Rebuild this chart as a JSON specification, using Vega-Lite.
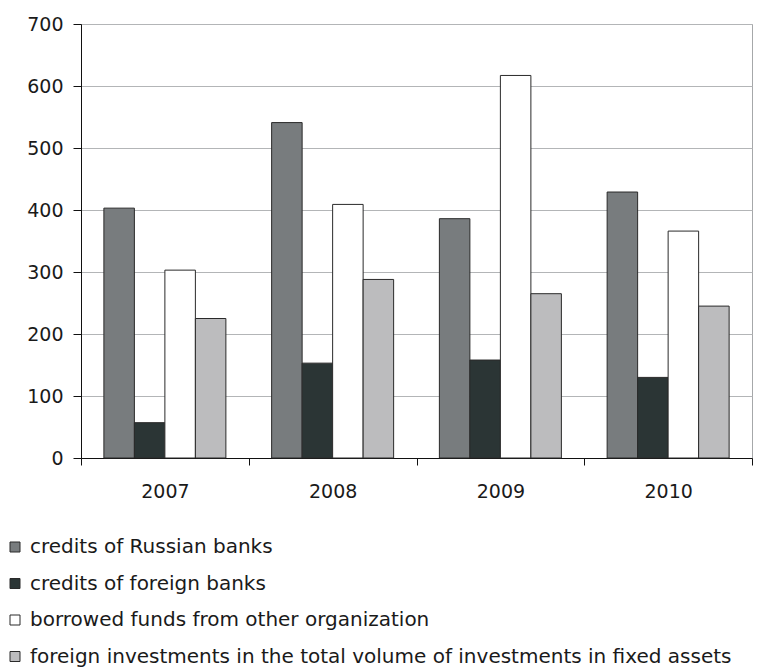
{
  "$schema": "https://vega.github.io/schema/vega-lite/v6.json",
  "autosize": {"type": "none"},
  "width": 671,
  "height": 434,
  "padding": {"left": 81, "top": 24, "right": 9, "bottom": 211},
  "background": "white",
  "config": {
    "font": "DejaVu Sans",
    "view": {"stroke": "#a6a8aa", "strokeWidth": 1}
  },
  "data": {
    "values": [
      {"year": "2007", "series": "credits of Russian banks", "value": 403},
      {"year": "2007", "series": "credits of foreign banks", "value": 57},
      {"year": "2007", "series": "borrowed funds from other organization", "value": 303},
      {"year": "2007", "series": "foreign investments in the total volume of investments in fixed assets", "value": 225},
      {"year": "2008", "series": "credits of Russian banks", "value": 541},
      {"year": "2008", "series": "credits of foreign banks", "value": 153},
      {"year": "2008", "series": "borrowed funds from other organization", "value": 409},
      {"year": "2008", "series": "foreign investments in the total volume of investments in fixed assets", "value": 288},
      {"year": "2009", "series": "credits of Russian banks", "value": 386},
      {"year": "2009", "series": "credits of foreign banks", "value": 158},
      {"year": "2009", "series": "borrowed funds from other organization", "value": 617},
      {"year": "2009", "series": "foreign investments in the total volume of investments in fixed assets", "value": 265},
      {"year": "2010", "series": "credits of Russian banks", "value": 429},
      {"year": "2010", "series": "credits of foreign banks", "value": 130},
      {"year": "2010", "series": "borrowed funds from other organization", "value": 366},
      {"year": "2010", "series": "foreign investments in the total volume of investments in fixed assets", "value": 245}
    ]
  },
  "mark": {"type": "bar", "stroke": "#2a2a2a", "strokeWidth": 1},
  "encoding": {
    "x": {
      "field": "year",
      "type": "nominal",
      "scale": {"paddingInner": 0, "paddingOuter": 0},
      "axis": {
        "title": null,
        "labelAngle": 0,
        "labelFontSize": 19,
        "labelColor": "#1a1a1a",
        "labelPadding": 17,
        "tickBand": "extent",
        "tickSize": 7,
        "tickColor": "#111",
        "domainColor": "#111",
        "grid": false
      }
    },
    "xOffset": {
      "field": "series",
      "type": "nominal",
      "sort": [
        "credits of Russian banks",
        "credits of foreign banks",
        "borrowed funds from other organization",
        "foreign investments in the total volume of investments in fixed assets"
      ],
      "scale": {"paddingInner": 0, "paddingOuter": 0.75}
    },
    "y": {
      "field": "value",
      "type": "quantitative",
      "scale": {"domain": [0, 700], "nice": false},
      "axis": {
        "title": null,
        "values": [0, 100, 200, 300, 400, 500, 600, 700],
        "labelFontSize": 19,
        "labelColor": "#1a1a1a",
        "labelPadding": 10,
        "tickSize": 8,
        "tickColor": "#111",
        "domainColor": "#111",
        "gridColor": "#b3b5b7",
        "gridWidth": 1.2
      }
    },
    "fill": {
      "field": "series",
      "type": "nominal",
      "sort": [
        "credits of Russian banks",
        "credits of foreign banks",
        "borrowed funds from other organization",
        "foreign investments in the total volume of investments in fixed assets"
      ],
      "scale": {
        "domain": [
          "credits of Russian banks",
          "credits of foreign banks",
          "borrowed funds from other organization",
          "foreign investments in the total volume of investments in fixed assets"
        ],
        "range": ["#787c7e", "#2b3535", "#ffffff", "#bcbcbe"]
      },
      "legend": {
        "title": null,
        "orient": "none",
        "direction": "vertical",
        "legendX": -76,
        "legendY": 513,
        "symbolType": "square",
        "symbolSize": 100,
        "symbolStrokeColor": "#2a2a2a",
        "symbolStrokeWidth": 1,
        "labelFontSize": 20,
        "labelColor": "#1a1a1a",
        "labelOffset": 5,
        "labelLimit": 0,
        "rowPadding": 16.5,
        "padding": 0
      }
    }
  }
}
